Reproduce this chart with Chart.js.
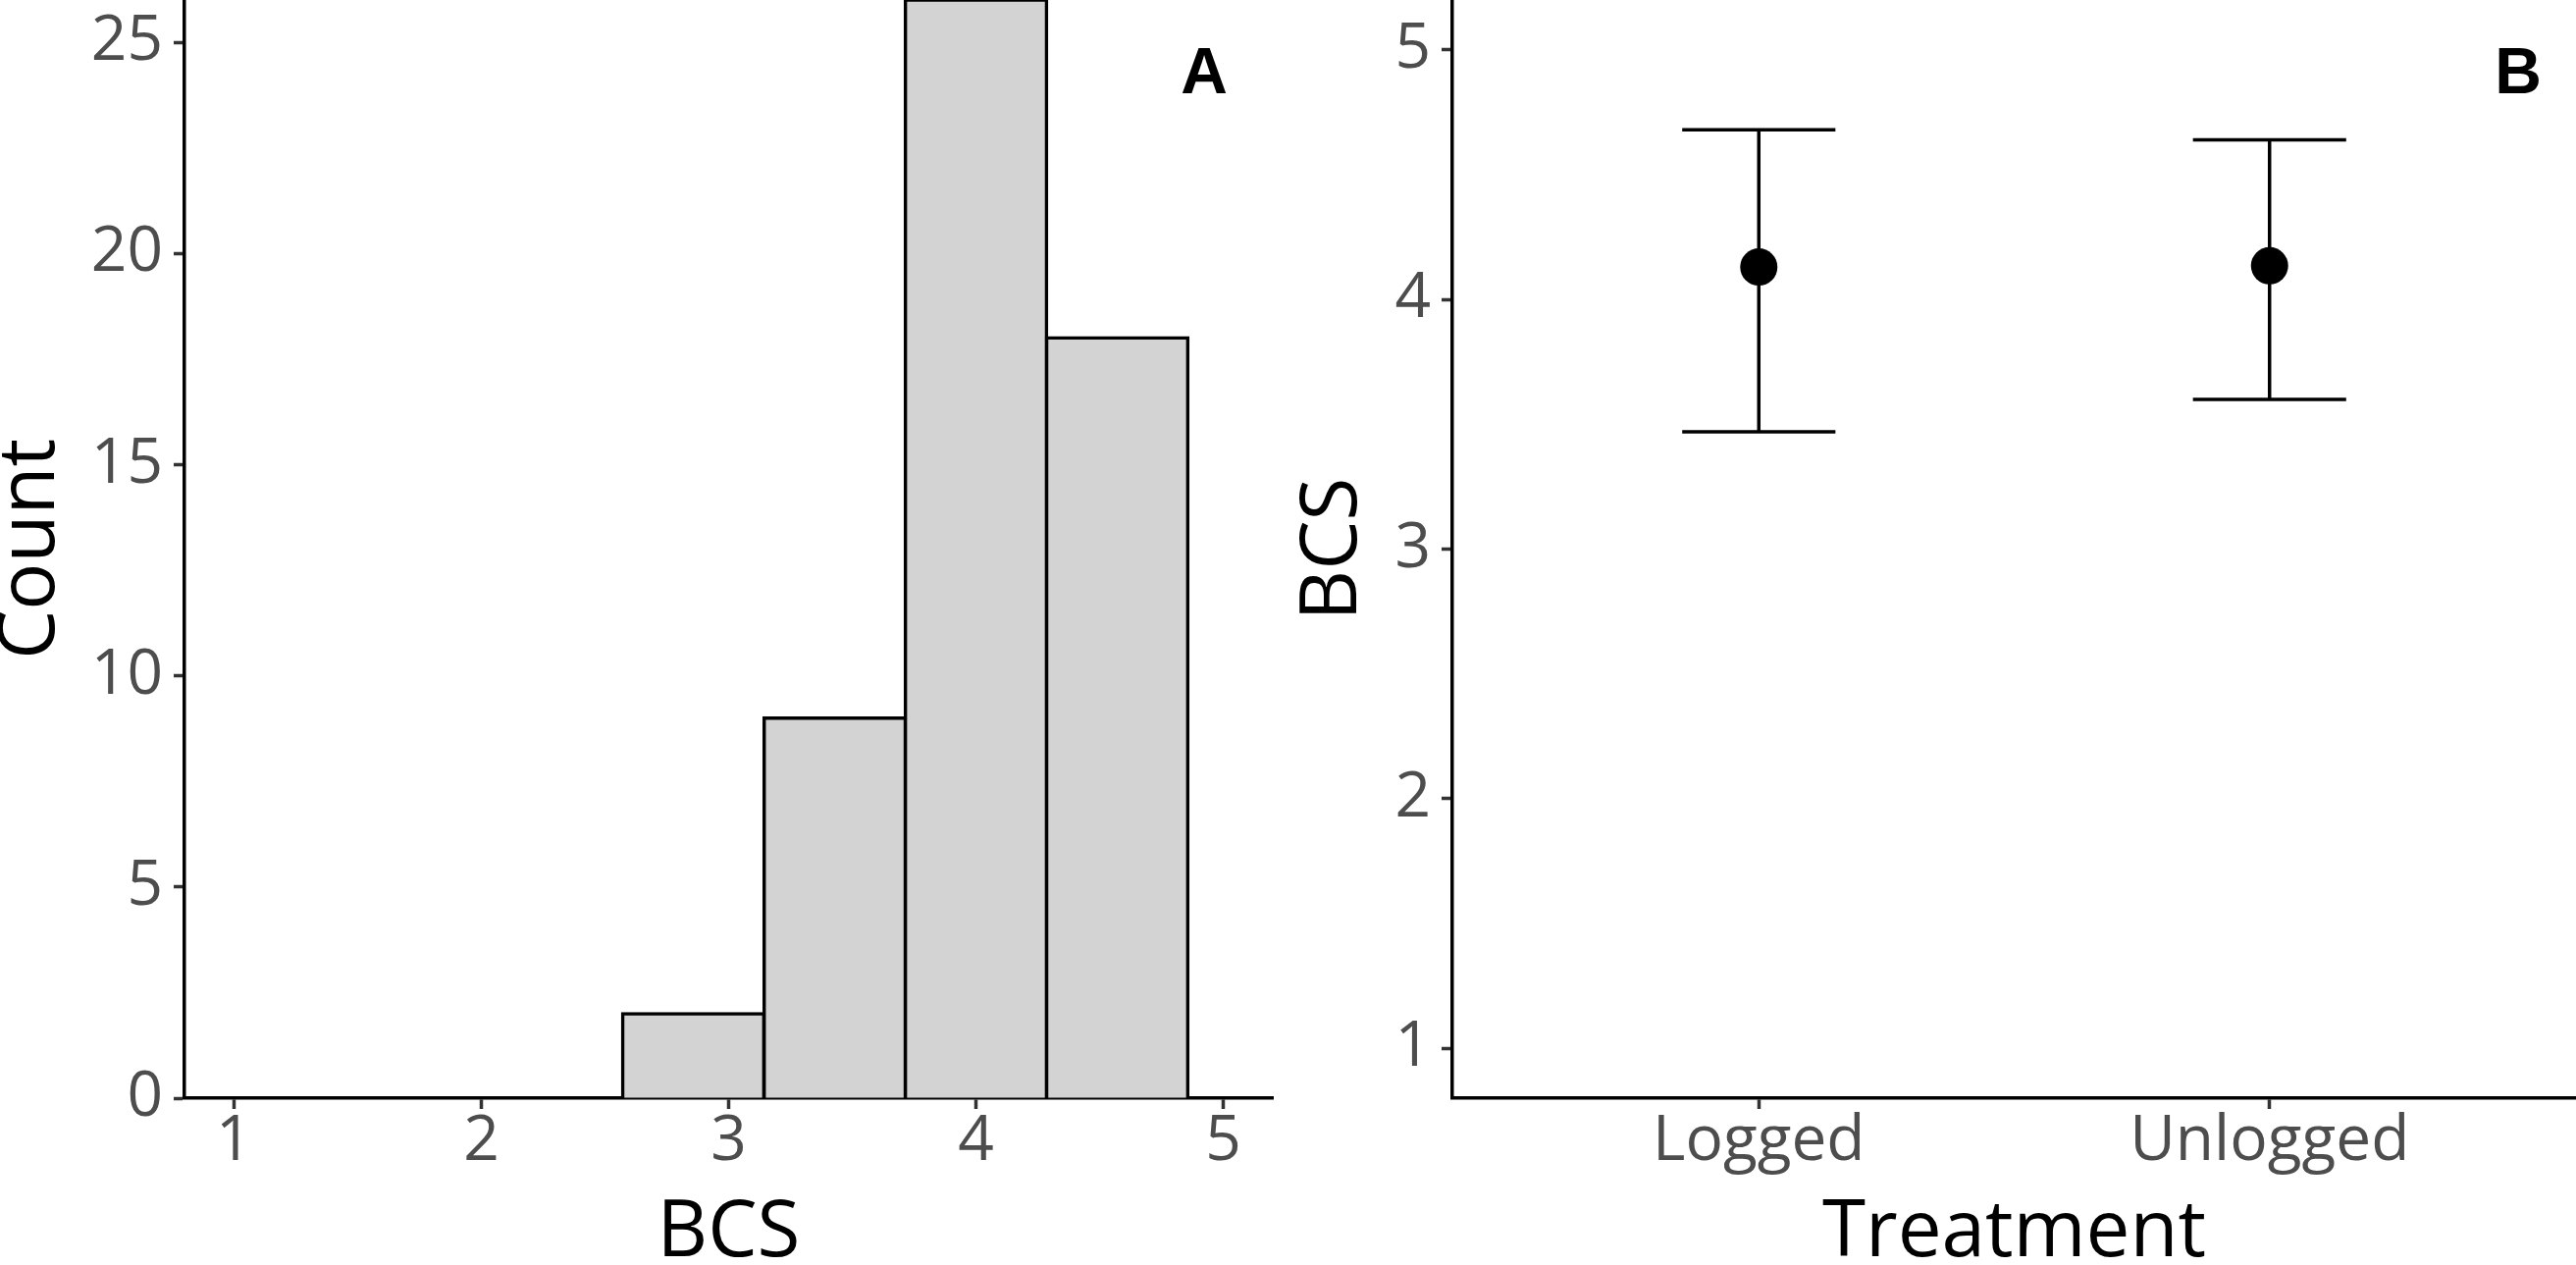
<!DOCTYPE html>
<html>
<head>
<meta charset="utf-8">
<script src="https://cdn.jsdelivr.net/npm/chart.js@4.4.1/dist/chart.umd.min.js"></script>
<style>
  html, body { margin: 0; padding: 0; background: #ffffff; }
  body { width: 2625px; height: 1289px; position: relative; overflow: hidden; }
  #left { position: absolute; left: 0; top: 0; width: 1300px; height: 1289px; }
  #right { position: absolute; left: 1300px; top: 0; width: 1325px; height: 1289px; }
</style>
</head>
<body>
<div id="left"><canvas id="c1" width="1300" height="1289"></canvas></div>
<div id="right"><canvas id="c2" width="1325" height="1289"></canvas></div>
<script>
// ---- Panel A: histogram of BCS ----
const histBinCenters = [1.714, 2.286, 2.857, 3.429, 4.0, 4.571];
const histCounts = [0, 0, 2, 9, 26, 18];
const histXTicks = [1, 2, 3, 4, 5];
const histYTicks = [0, 5, 10, 15, 20, 25];

// ---- Panel B: mean BCS with error bars by treatment ----
const treatments = ['Logged', 'Unlogged'];
const bcsMean = [4.13, 4.135];
const bcsLower = [3.47, 3.60];
const bcsUpper = [4.68, 4.64];
const bcsYTicks = [1, 2, 3, 4, 5];

const FONT = "'Open Sans', 'Noto Sans', sans-serif";
const TICK_FONT = { family: FONT, size: 64, lineHeight: 1 };
const TITLE_FONT = { family: FONT, size: 80, lineHeight: 0.8 };
const TICK_COLOR = '#4D4D4D';

function axisCommon() {
  return {
    z: 1,
    border: { display: true, color: '#000000', width: 3.5 },
    grid: { display: true, offset: false, drawOnChartArea: false, drawTicks: true, tickLength: 11, tickWidth: 3.5, tickColor: '#333333' }
  };
}

const panelLabel = (txt, dx) => ({
  id: 'panelLabel' + txt,
  afterDraw(chart) {
    const ctx = chart.ctx;
    ctx.save();
    ctx.font = "bold 66px 'Liberation Sans', Arial, sans-serif";
    ctx.fillStyle = '#000';
    ctx.textAlign = 'center';
    ctx.textBaseline = 'alphabetic';
    ctx.fillText(txt, chart.chartArea.right - dx, 95);
    ctx.restore();
  }
});

Chart.defaults.animation = false;

new Chart(document.getElementById('c1'), {
  type: 'bar',
  data: {
    datasets: [{
      data: histBinCenters.map((c, i) => ({ x: c, y: histCounts[i] })),
      backgroundColor: '#D3D3D3',
      borderColor: '#000000',
      borderWidth: 3.5,
      borderSkipped: 'start',
      inflateAmount: 1.75,
      barPercentage: 1,
      categoryPercentage: 1
    }]
  },
  options: {
    responsive: false,
    animation: false,
    layout: { autoPadding: false, padding: { left: 0, right: 3, top: 0, bottom: 0 } },
    plugins: { legend: { display: false }, tooltip: { enabled: false } },
    scales: {
      x: Object.assign(axisCommon(), {
        type: 'linear', min: 0.8, max: 5.2, offset: false,
        afterBuildTicks: s => { s.ticks = histXTicks.map(v => ({ value: v })); },
        afterFit: s => { s.height = 170; s.paddingLeft = 0; s.paddingRight = 0; },
        ticks: { font: TICK_FONT, color: TICK_COLOR, padding: 2, maxRotation: 0, autoSkip: false },
        title: { display: true, text: 'BCS', font: TITLE_FONT, color: '#000000', padding: 0 }
      }),
      y: Object.assign(axisCommon(), {
        type: 'linear', min: 0, max: 26,
        afterBuildTicks: s => { s.ticks = histYTicks.map(v => ({ value: v })); },
        afterFit: s => { s.width = 188; s.paddingTop = 0; s.paddingBottom = 0; },
        ticks: { font: TICK_FONT, color: TICK_COLOR, padding: 11, autoSkip: false },
        title: { display: true, text: 'Count', font: TITLE_FONT, color: '#000000', padding: 0 }
      })
    }
  },
  plugins: [panelLabel('A', 70)]
});

const errorBars = {
  id: 'errorBars',
  beforeDatasetsDraw(chart) {
    const xs = chart.scales.x, ys = chart.scales.y, ctx = chart.ctx;
    ctx.save();
    ctx.strokeStyle = '#000000';
    ctx.lineWidth = 3.5;
    treatments.forEach((t, i) => {
      const x = xs.getPixelForValue(i + 1);
      const half = xs.getPixelForValue(i + 1 + 0.15) - x;
      const yl = ys.getPixelForValue(bcsLower[i]);
      const yu = ys.getPixelForValue(bcsUpper[i]);
      ctx.beginPath();
      ctx.moveTo(x, yl); ctx.lineTo(x, yu);
      ctx.moveTo(x - half, yl); ctx.lineTo(x + half, yl);
      ctx.moveTo(x - half, yu); ctx.lineTo(x + half, yu);
      ctx.stroke();
    });
    ctx.restore();
  }
};

new Chart(document.getElementById('c2'), {
  type: 'scatter',
  data: {
    datasets: [{
      data: treatments.map((t, i) => ({ x: i + 1, y: bcsMean[i] })),
      backgroundColor: '#000000',
      borderColor: '#000000',
      borderWidth: 0,
      pointRadius: 19,
      pointHoverRadius: 19
    }]
  },
  options: {
    responsive: false,
    animation: false,
    layout: { autoPadding: false, padding: 0 },
    plugins: { legend: { display: false }, tooltip: { enabled: false } },
    scales: {
      x: Object.assign(axisCommon(), {
        type: 'linear', min: 0.4, max: 2.6, offset: false,
        afterBuildTicks: s => { s.ticks = treatments.map((t, i) => ({ value: i + 1 })); },
        afterFit: s => { s.height = 170; s.paddingLeft = 0; s.paddingRight = 0; },
        ticks: { font: TICK_FONT, color: TICK_COLOR, padding: 2, maxRotation: 0, autoSkip: false,
                 callback: v => treatments[Math.round(v) - 1] },
        title: { display: true, text: 'Treatment', font: TITLE_FONT, color: '#000000', padding: 0 }
      }),
      y: Object.assign(axisCommon(), {
        type: 'linear', min: 0.8, max: 5.2,
        afterBuildTicks: s => { s.ticks = bcsYTicks.map(v => ({ value: v })); },
        afterFit: s => { s.width = 180; s.paddingTop = 0; s.paddingBottom = 0; },
        ticks: { font: TICK_FONT, color: TICK_COLOR, padding: 11, autoSkip: false },
        title: { display: true, text: 'BCS', font: TITLE_FONT, color: '#000000', padding: { top: 27, bottom: 0 } }
      })
    }
  },
  plugins: [errorBars, panelLabel('B', 59)]
});
</script>
</body>
</html>
